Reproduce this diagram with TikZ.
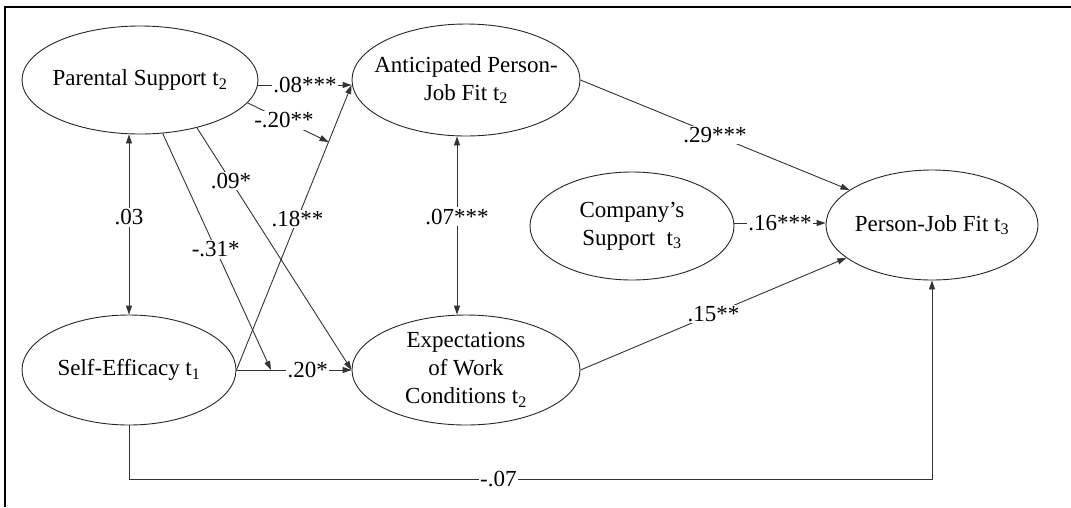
\documentclass[tikz,border=0pt]{standalone}
\usepackage{fontspec}
\setmainfont{Liberation Serif}
\usetikzlibrary{shapes.geometric,arrows.meta,calc}
\begin{document}
\begin{tikzpicture}[x=1pt,y=-1pt,
  var/.style={ellipse, draw=black!85, line width=0.9pt, inner sep=0pt},
  vtext/.style={align=center, inner sep=0pt, font=\fontsize{23}{28}\selectfont},
  link/.style={draw=black!80, line width=0.9pt},
  arr/.style={link, -{Triangle[length=9pt,width=6pt]}},
  darr/.style={link, {Triangle[length=9pt,width=6pt]}-{Triangle[length=9pt,width=6pt]}},
  lab/.style={fill=white, inner sep=1.5pt, font=\fontsize{23}{28}\selectfont}]
\useasboundingbox (0,0) rectangle (1071,507);
\draw[line width=2.5pt] (5,507) -- (5,7) -- (1071,7);

% variables
\node[var, minimum width=236pt, minimum height=108pt] (ps) at (140,80) {};
\node[vtext] (ps-t) at (ps) {Parental Support t\textsubscript{2}};
\node[var, minimum width=228pt, minimum height=112pt] (ap) at (466,80) {};
\node[vtext] (ap-t) at (ap) {Anticipated Person-\\Job Fit t\textsubscript{2}};
\node[var, minimum width=204pt, minimum height=108pt] (cs) at (632,226) {};
\node[vtext] (cs-t) at (cs) {Company’s\\Support\ \ t\textsubscript{3}};
\node[var, minimum width=212pt, minimum height=110pt] (pj) at (932,225) {};
\node[vtext] (pj-t) at (pj) {Person-Job Fit t\textsubscript{3}};
\node[var, minimum width=214pt, minimum height=110pt] (se) at (129,370) {};
\node[vtext] (se-t) at (se) {Self-Efficacy t\textsubscript{1}};
\node[var, minimum width=228pt, minimum height=110pt] (ep) at (466,370) {};
\node[vtext] (ep-t) at (ep) {Expectations\\of Work\\Conditions t\textsubscript{2}};

% helper coordinates
\coordinate (p08) at ([yshift=-5pt]ps.east);
\coordinate (a08) at (p08 -| ap.west);
\coordinate (m20) at ($(se.east)!0.8!(a08)$);
\coordinate (m31) at ($(se.east)!0.3!(ep.west)$);
\coordinate (v07) at ([xshift=-9pt]ap.south);
\coordinate (c16) at ([yshift=3pt]cs.east);
\path (se.south) ++(0,54) coordinate (b1);
\coordinate (b2) at (b1 -| pj.south);

% connectors
\draw[arr] (p08) -- node[lab]{.08***} (a08);
\draw[arr] (se.east) -- node[lab,pos=0.53]{.18**} (a08);
\draw[arr] (ps.-12) -- node[lab,pos=0.45]{-.20**} (m20);
\draw[arr] (ps.-40) -- node[lab,pos=0.22]{.09*} (ep.west);
\draw[arr] (ps.-67) -- node[lab,pos=0.49]{-.31*} (m31);
\draw[arr] (se.east) -- node[lab,pos=0.62]{.20*} (ep.west);
\draw[darr] (se.north) -- node[lab,pos=0.54]{.03} (se.north |- ps.south);
\draw[darr] (v07) -- node[lab,pos=0.45]{.07***} (v07 |- ep.north);
\draw[arr] (ap.east) -- node[lab]{.29***} (pj.157);
\draw[arr] (c16) -- node[lab]{.16***} (c16 -| pj.west);
\draw[arr] (ep.east) -- node[lab]{.15**} (pj.201);
\draw[arr] (se.south) -- (b1) -- node[lab,pos=0.46]{-.07} (b2) -- (pj.south);
\end{tikzpicture}
\end{document}
